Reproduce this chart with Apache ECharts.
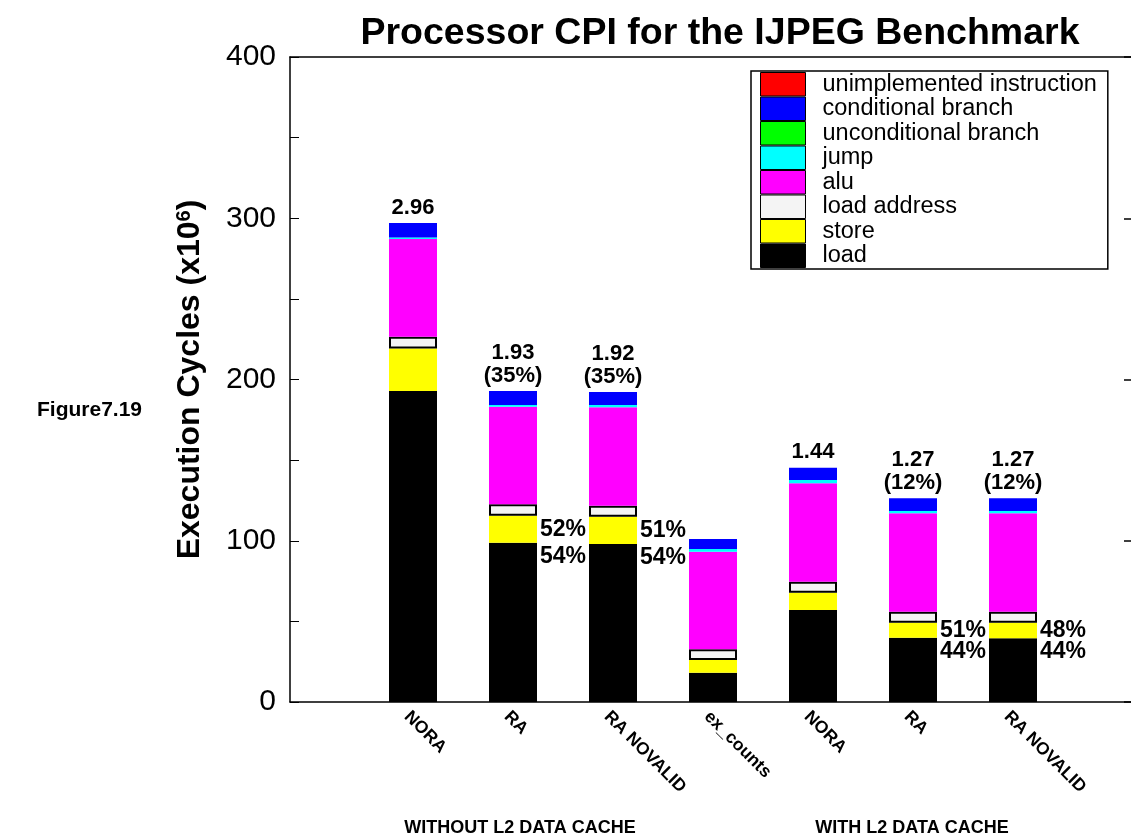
<!DOCTYPE html>
<html>
<head>
<meta charset="utf-8">
<script src="https://cdn.jsdelivr.net/npm/echarts@6/dist/echarts.min.js"></script>
<style>
  html, body { margin: 0; padding: 0; background: #fff; }
  #main { width: 1131px; height: 839px; }
</style>
</head>
<body>
<div id="main"></div>
<script>
// categories along the x axis
var categories = ['NORA', 'RA', 'RA NOVALID', 'ex_counts', 'NORA', 'RA', 'RA NOVALID'];

// execution cycles (x10^6), one array per instruction class
var loadVals = [192.9, 98.8, 98.0, 18.2, 57.1, 39.9, 39.5];
var storeVals = [26.4, 16.7, 16.9, 7.9, 10.7, 9.3, 9.7];
var loadAddrVals = [7.2, 7.1, 6.8, 6.6, 6.8, 6.8, 6.8];
var aluVals = [60.6, 60.5, 61.1, 60.5, 61.0, 61.0, 61.0];
var jumpVals = [1.0, 1.1, 1.4, 1.7, 2.1, 1.4, 1.4];
var uncondVals = [0, 0, 0, 0, 0, 0, 0];
var condVals = [8.9, 8.7, 8.0, 6.2, 7.6, 7.9, 7.9];
var unimplVals = [0, 0, 0, 0, 0, 0, 0];

// annotation texts
var topLabels = ['2.96', '1.93\n(35%)', '1.92\n(35%)', '', '1.44', '1.27\n(12%)', '1.27\n(12%)'];
var storePct = ['', '52%', '51%', '', '', '51%', '48%'];
var loadPct = ['', '54%', '54%', '', '', '44%', '44%'];

var legendOrder = ['unimplemented instruction', 'conditional branch', 'unconditional branch',
  'jump', 'alu', 'load address', 'store', 'load'];

var FONT = 'Liberation Sans, Arial, sans-serif';

var chart = echarts.init(document.getElementById('main'));

function bar(name, data, color, extra) {
  var s = {
    name: name,
    type: 'bar',
    stack: 'total',
    xAxisIndex: 2,
    yAxisIndex: 2,
    barWidth: 48,
    data: data,
    itemStyle: { color: color },
    emphasis: { disabled: true }
  };
  for (var k in extra) s[k] = extra[k];
  return s;
}

var pctLabel = {
  color: '#000',
  fontFamily: FONT,
  fontWeight: 'bold',
  fontSize: 23
};

var frameLine = { show: true, onZero: false, lineStyle: { color: '#000', width: 1.5 } };

var option = {
  backgroundColor: '#fff',
  animation: false,
  title: {
    text: 'Processor CPI for the IJPEG Benchmark',
    left: 715,
    top: 10,
    textAlign: 'center',
    textStyle: { fontFamily: FONT, fontWeight: 'bold', fontSize: 37.5, color: '#000' }
  },
  legend: {
    orient: 'vertical',
    left: 751,
    top: 71,
    padding: [1, 11, 1, 9],
    itemWidth: 45,
    itemHeight: 23.5,
    itemGap: 0,
    icon: 'rect',
    borderColor: '#000',
    borderWidth: 1.5,
    backgroundColor: '#fff',
    data: legendOrder,
    itemStyle: { borderColor: '#000', borderWidth: 1 },
    textStyle: { fontFamily: FONT, fontSize: 23.5, color: '#000', lineHeight: 23, padding: [0, 0, 0, 12] },
    selectedMode: false
  },
  grid: [
    // frame: runs to the right edge of the picture
    { left: 290, top: 57, width: 841, height: 645, outerBoundsMode: 'none' },
    // category labels, nudged left a little
    { left: 357, top: 57, width: 700, height: 645, outerBoundsMode: 'none' },
    // bars
    { left: 363, top: 57, width: 700, height: 645, outerBoundsMode: 'none' }
  ],
  xAxis: [
    { gridIndex: 0, type: 'value', min: 0, max: 1, position: 'bottom', axisLine: frameLine, axisTick: { show: false }, axisLabel: { show: false }, splitLine: { show: false } },
    { gridIndex: 0, type: 'value', min: 0, max: 1, position: 'top', axisLine: frameLine, axisTick: { show: false }, axisLabel: { show: false }, splitLine: { show: false } },
    { gridIndex: 2, type: 'category', data: categories, show: false },
    {
      gridIndex: 1,
      type: 'category',
      data: categories,
      axisLine: { show: false },
      axisTick: { show: false },
      axisLabel: {
        rotate: -45,
        margin: 12,
        interval: 0,
        color: '#000',
        fontFamily: FONT,
        fontWeight: 'bold',
        fontSize: 17.5
      }
    }
  ],
  yAxis: [
    {
      gridIndex: 0,
      type: 'value',
      position: 'left',
      min: 0,
      max: 400,
      interval: 50,
      name: 'Execution Cycles (x10{sup|6})',
      nameLocation: 'middle',
      nameRotate: 90,
      nameGap: 84,
      nameTextStyle: {
        fontFamily: FONT, fontWeight: 'bold', fontSize: 32, color: '#000',
        rich: { sup: { fontFamily: FONT, fontWeight: 'bold', fontSize: 20, color: '#000', verticalAlign: 'top', padding: [0, 0, 12, 0] } }
      },
      axisLine: frameLine,
      axisTick: { show: true, inside: true, length: 9, lineStyle: { color: '#000' } },
      axisLabel: {
        margin: 14,
        color: '#000',
        fontFamily: FONT,
        fontSize: 30,
        formatter: function (v) { return v % 100 === 0 ? v : ''; }
      },
      splitLine: { show: false }
    },
    {
      // short ticks at the right edge, the right border itself is off the picture
      gridIndex: 0,
      type: 'value',
      position: 'right',
      min: 0,
      max: 400,
      interval: 100,
      axisLine: { show: false, onZero: false },
      axisTick: { show: true, inside: true, length: 7, lineStyle: { color: '#000', width: 1.5 } },
      axisLabel: { show: false },
      splitLine: { show: false }
    },
    { gridIndex: 2, type: 'value', min: 0, max: 400, show: false },
    { gridIndex: 1, type: 'value', min: 0, max: 400, show: false }
  ],
  graphic: [
    { type: 'text', x: 37, y: 410, style: { text: 'Figure7.19', font: 'bold 21px ' + FONT, fill: '#000', textVerticalAlign: 'middle' } },
    { type: 'text', x: 520, y: 828, style: { text: 'WITHOUT L2 DATA CACHE', font: 'bold 18px ' + FONT, fill: '#000', textAlign: 'center', textVerticalAlign: 'middle' } },
    { type: 'text', x: 912, y: 828, style: { text: 'WITH L2 DATA CACHE', font: 'bold 18px ' + FONT, fill: '#000', textAlign: 'center', textVerticalAlign: 'middle' } }
  ],
  series: [
    bar('load', loadVals, '#000000', {
      label: Object.assign({
        show: true,
        position: ['100%', 0],
        offset: [3, 2],
        align: 'left',
        verticalAlign: 'top',
        formatter: function (p) { return loadPct[p.dataIndex]; }
      }, pctLabel)
    }),
    bar('store', storeVals, '#ffff00', {
      label: Object.assign({
        show: true,
        position: 'right',
        distance: 3,
        formatter: function (p) { return storePct[p.dataIndex]; }
      }, pctLabel)
    }),
    bar('load address', loadAddrVals, '#f4f4f4', {
      itemStyle: { color: '#f4f4f4', borderColor: '#000', borderWidth: 2 }
    }),
    bar('alu', aluVals, '#ff00ff'),
    bar('jump', jumpVals, '#00ffff'),
    bar('unconditional branch', uncondVals, '#00ff00'),
    bar('conditional branch', condVals, '#0000ff', {
      label: {
        show: true,
        position: 'top',
        distance: 4,
        color: '#000',
        fontFamily: FONT,
        fontWeight: 'bold',
        fontSize: 22,
        lineHeight: 23,
        formatter: function (p) { return topLabels[p.dataIndex]; }
      }
    }),
    bar('unimplemented instruction', unimplVals, '#ff0000')
  ]
};

chart.setOption(option);
</script>
</body>
</html>
